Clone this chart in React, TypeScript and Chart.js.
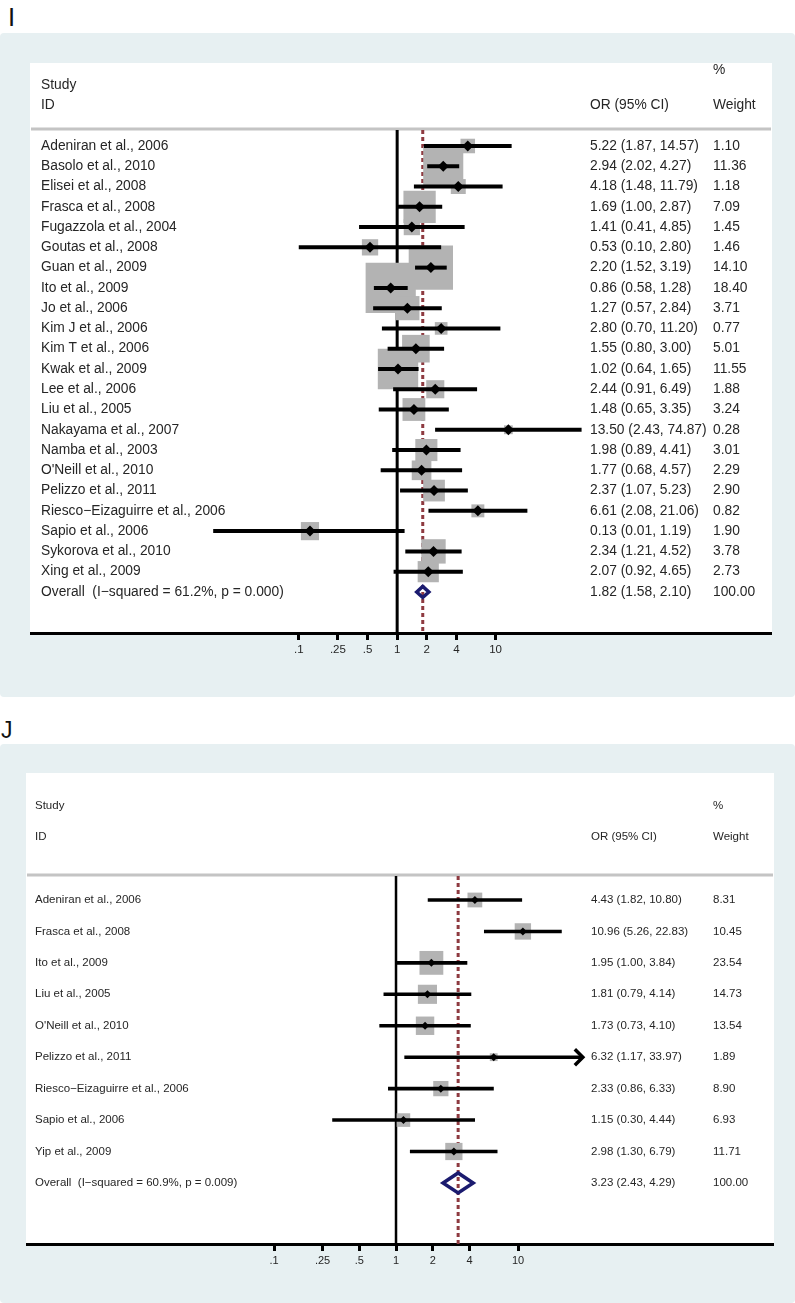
import React, { useEffect, useRef } from "react";
import { Chart, registerables } from "chart.js";

Chart.register(...registerables);

// ---------------- Panel I data ----------------
const studiesI = [
  "Adeniran et al., 2006",
  "Basolo et al., 2010",
  "Elisei et al., 2008",
  "Frasca et al., 2008",
  "Fugazzola et al., 2004",
  "Goutas et al., 2008",
  "Guan et al., 2009",
  "Ito et al., 2009",
  "Jo et al., 2006",
  "Kim J et al., 2006",
  "Kim T et al., 2006",
  "Kwak et al., 2009",
  "Lee et al., 2006",
  "Liu et al., 2005",
  "Nakayama et al., 2007",
  "Namba et al., 2003",
  "O'Neill et al., 2010",
  "Pelizzo et al., 2011",
  "Riesco\u2212Eizaguirre et al., 2006",
  "Sapio et al., 2006",
  "Sykorova et al., 2010",
  "Xing et al., 2009",
];
const orI = [5.22, 2.94, 4.18, 1.69, 1.41, 0.53, 2.2, 0.86, 1.27, 2.8, 1.55, 1.02, 2.44, 1.48, 13.5, 1.98, 1.77, 2.37, 6.61, 0.13, 2.34, 2.07];
const loI = [1.87, 2.02, 1.48, 1.0, 0.41, 0.1, 1.52, 0.58, 0.57, 0.7, 0.8, 0.64, 0.91, 0.65, 2.43, 0.89, 0.68, 1.07, 2.08, 0.0135, 1.21, 0.92];
const hiI = [14.57, 4.27, 11.79, 2.87, 4.85, 2.8, 3.19, 1.28, 2.84, 11.2, 3.0, 1.65, 6.49, 3.35, 74.87, 4.41, 4.57, 5.23, 21.06, 1.19, 4.52, 4.65];
const weightI = [1.1, 11.36, 1.18, 7.09, 1.45, 1.46, 14.1, 18.4, 3.71, 0.77, 5.01, 11.55, 1.88, 3.24, 0.28, 3.01, 2.29, 2.9, 0.82, 1.9, 3.78, 2.73];
const overallLabelI = "Overall  (I\u2212squared = 61.2%, p = 0.000)";
const overallI = [1.82, 1.58, 2.1];
const overallWeightI = 100;

// ---------------- Panel J data ----------------
const studiesJ = [
  "Adeniran et al., 2006",
  "Frasca et al., 2008",
  "Ito et al., 2009",
  "Liu et al., 2005",
  "O'Neill et al., 2010",
  "Pelizzo et al., 2011",
  "Riesco\u2212Eizaguirre et al., 2006",
  "Sapio et al., 2006",
  "Yip et al., 2009",
];
const orJ = [4.43, 10.96, 1.95, 1.81, 1.73, 6.32, 2.33, 1.15, 2.98];
const loJ = [1.82, 5.26, 1.0, 0.79, 0.73, 1.17, 0.86, 0.3, 1.3];
const hiJ = [10.8, 22.83, 3.84, 4.14, 4.1, 33.97, 6.33, 4.44, 6.79];
const weightJ = [8.31, 10.45, 23.54, 14.73, 13.54, 1.89, 8.9, 6.93, 11.71];
const overallLabelJ = "Overall  (I\u2212squared = 60.9%, p = 0.009)";
const overallJ = [3.23, 2.43, 4.29];
const overallWeightJ = 100;

// ---------------- Axis ticks ----------------
const tickValues = [0.1, 0.25, 0.5, 1, 2, 4, 10];
const tickLabels = [".1", ".25", ".5", "1", "2", "4", "10"];

const headerStudy = "Study";
const headerId = "ID";
const headerOr = "OR (95% CI)";
const headerPct = "%";
const headerWeight = "Weight";

// ---------------- Styles ----------------
const FONT = '"Liberation Sans", Arial, Helvetica, sans-serif';
const TEXT = "#262626";
const GRAY_SQ = "#b3b3b3";
const DASH_RED = "#8e3a40";
const NAVY = "#1b1b6f";
const BG = "#e7f0f2";
const W = 795;

type PanelData = {
  studies: string[];
  or: number[];
  lo: number[];
  hi: number[];
  weight: number[];
  overallLabel: string;
  overall: number[];
  overallWeight: number;
};

type PanelStyle = {
  canvasTop: number;
  canvasH: number;
  white: number[];
  area: { left: number; right: number; top: number; bottom: number };
  xMin: number;
  xMax: number;
  yMin: number;
  yMax: number;
  font: number;
  tickFont: number;
  nameX: number;
  orX: number;
  wX: number;
  headStudyY: number;
  headIdY: number;
  headPctY: number;
  headWeightY: number;
  sqK: number;
  sqC: number;
  ciW: number;
  ptR: number;
  nullW: number;
  dashW: number;
  dash: number[];
  diaHalf: number;
  diaW: number;
  axisW: number;
  tickPad: number;
  arrowAbove: number;
};

const styleI: PanelStyle = {
  canvasTop: 33,
  canvasH: 664,
  white: [30, 30, 772, 600],
  area: { left: 31, right: 771, top: 97, bottom: 600 },
  xMin: 1.9e-4,
  xMax: 6.3e3,
  yMin: -0.789,
  yMax: 24.026,
  font: 13.8,
  tickFont: 11.5,
  nameX: 41,
  orX: 590,
  wX: 713,
  headStudyY: 52,
  headIdY: 72,
  headPctY: 37,
  headWeightY: 72,
  sqK: 11,
  sqC: 3,
  ciW: 4,
  ptR: 5.5,
  nullW: 3,
  dashW: 3,
  dash: [4, 3],
  diaHalf: 5.5,
  diaW: 3.5,
  axisW: 3,
  tickPad: 3,
  arrowAbove: Infinity,
};

const styleJ: PanelStyle = {
  canvasTop: 744,
  canvasH: 559,
  white: [26, 29, 774, 500],
  area: { left: 27, right: 773, top: 132, bottom: 500 },
  xMin: 9.45e-4,
  xMax: 1230,
  yMin: -0.763,
  yMax: 10.942,
  font: 11.5,
  tickFont: 11,
  nameX: 35,
  orX: 591,
  wX: 713,
  headStudyY: 62,
  headIdY: 93,
  headPctY: 62,
  headWeightY: 93,
  sqK: 4.6,
  sqC: 1.5,
  ciW: 3.6,
  ptR: 4,
  nullW: 2.5,
  dashW: 3,
  dash: [4, 3],
  diaHalf: 10,
  diaW: 3.5,
  axisW: 3,
  tickPad: 3,
  arrowAbove: 30,
};

function buildChart(canvas: HTMLCanvasElement, d: PanelData, s: PanelStyle) {
  const H = s.canvasH;
  const n = d.studies.length;
  const datasets: any[] = [];

  // null line at OR = 1
  datasets.push({
    data: [{ x: 1, y: s.yMin }, { x: 1, y: s.yMax }],
    showLine: true,
    borderColor: "#000",
    borderWidth: s.nullW,
    pointRadius: 0,
    order: 6,
  });
  // dashed overall line
  datasets.push({
    data: [{ x: d.overall[0], y: s.yMin }, { x: d.overall[0], y: s.yMax }],
    showLine: true,
    borderColor: DASH_RED,
    borderWidth: s.dashW,
    borderDash: s.dash,
    pointRadius: 0,
    order: 5,
  });
  // weight squares
  datasets.push({
    data: d.or.map((v, i) => ({ x: v, y: i })),
    pointStyle: "rect",
    pointRadius: d.weight.map((w) => (s.sqK * Math.sqrt(w) + s.sqC) / Math.SQRT2),
    backgroundColor: GRAY_SQ,
    pointBackgroundColor: GRAY_SQ,
    borderWidth: 0,
    pointBorderWidth: 0,
    order: 4,
  });
  // CI lines
  d.or.forEach((_, i) => {
    datasets.push({
      data: [{ x: d.lo[i], y: i }, { x: d.hi[i], y: i }],
      showLine: true,
      borderColor: "#000",
      borderWidth: s.ciW,
      borderCapStyle: "butt",
      pointRadius: 0,
      order: 3,
    });
  });
  // point estimates
  datasets.push({
    data: d.or.map((v, i) => ({ x: v, y: i })),
    pointStyle: "rectRot",
    pointRadius: s.ptR,
    backgroundColor: "#000",
    pointBackgroundColor: "#000",
    borderWidth: 0,
    pointBorderWidth: 0,
    order: 1,
  });

  const bgPlugin = {
    id: "panelBg",
    beforeDraw(chart: any) {
      const ctx = chart.ctx;
      ctx.save();
      ctx.fillStyle = "#fff";
      ctx.fillRect(0, 0, W, H);
      ctx.fillStyle = BG;
      ctx.beginPath();
      if (ctx.roundRect) ctx.roundRect(0, 0, W, H, 4);
      else ctx.rect(0, 0, W, H);
      ctx.fill();
      const [x0, y0, x1, y1] = s.white;
      ctx.fillStyle = "#fff";
      ctx.fillRect(x0, y0, x1 - x0, y1 - y0);
      ctx.fillStyle = "#c4c4c4";
      ctx.fillRect(x0 + 1, chart.chartArea.top - 2.5, x1 - x0 - 2, 3);
      ctx.restore();
    },
  };

  const textPlugin = {
    id: "forestText",
    afterDatasetsDraw(chart: any) {
      const ctx = chart.ctx;
      const xs = chart.scales.x;
      const ys = chart.scales.y;
      ctx.save();
      ctx.font = `${s.font}px ${FONT}`;
      ctx.fillStyle = TEXT;
      ctx.textBaseline = "middle";
      ctx.textAlign = "left";
      ctx.fillText(headerStudy, s.nameX, s.headStudyY);
      ctx.fillText(headerId, s.nameX, s.headIdY);
      ctx.fillText(headerOr, s.orX, s.headWeightY);
      ctx.fillText(headerPct, s.wX, s.headPctY);
      ctx.fillText(headerWeight, s.wX, s.headWeightY);
      for (let i = 0; i < n; i++) {
        const py = ys.getPixelForValue(i);
        ctx.fillText(d.studies[i], s.nameX, py);
        ctx.fillText(
          `${d.or[i].toFixed(2)} (${d.lo[i].toFixed(2)}, ${d.hi[i].toFixed(2)})`,
          s.orX,
          py
        );
        ctx.fillText(d.weight[i].toFixed(2), s.wX, py);
      }
      const oy = ys.getPixelForValue(n);
      ctx.fillText(d.overallLabel, s.nameX, oy);
      ctx.fillText(
        `${d.overall[0].toFixed(2)} (${d.overall[1].toFixed(2)}, ${d.overall[2].toFixed(2)})`,
        s.orX,
        oy
      );
      ctx.fillText(d.overallWeight.toFixed(2), s.wX, oy);

      // overall diamond
      ctx.beginPath();
      ctx.moveTo(xs.getPixelForValue(d.overall[1]), oy);
      ctx.lineTo(xs.getPixelForValue(d.overall[0]), oy - s.diaHalf);
      ctx.lineTo(xs.getPixelForValue(d.overall[2]), oy);
      ctx.lineTo(xs.getPixelForValue(d.overall[0]), oy + s.diaHalf);
      ctx.closePath();
      ctx.lineJoin = "miter";
      ctx.strokeStyle = NAVY;
      ctx.lineWidth = s.diaW;
      ctx.stroke();

      // arrows for CIs beyond the display range
      for (let i = 0; i < n; i++) {
        if (d.hi[i] > s.arrowAbove) {
          const px = xs.getPixelForValue(d.hi[i]);
          const py = ys.getPixelForValue(i);
          ctx.beginPath();
          ctx.moveTo(px - 8, py - 8);
          ctx.lineTo(px, py);
          ctx.lineTo(px - 8, py + 8);
          ctx.strokeStyle = "#000";
          ctx.lineWidth = 3.5;
          ctx.stroke();
        }
      }
      ctx.restore();
    },
  };

  return new Chart(canvas, {
    type: "scatter",
    data: { datasets },
    options: {
      animation: false,
      responsive: false,
      maintainAspectRatio: false,
      events: [],
      layout: {
        autoPadding: false,
        padding: { left: s.area.left, right: W - s.area.right, top: s.area.top, bottom: 0 },
      },
      plugins: { legend: { display: false }, tooltip: { enabled: false } },
      elements: { line: { tension: 0 } },
      scales: {
        x: {
          type: "logarithmic",
          position: "bottom",
          min: s.xMin,
          max: s.xMax,
          bounds: "data",
          afterBuildTicks: (axis: any) => {
            axis.ticks = tickValues.map((v) => ({ value: v }));
          },
          afterFit: (axis: any) => {
            axis.height = H - s.area.bottom;
          },
          ticks: {
            autoSkip: false,
            maxRotation: 0,
            minRotation: 0,
            padding: s.tickPad,
            color: TEXT,
            font: { family: FONT, size: s.tickFont },
            callback: (_v: any, i: number) => tickLabels[i],
          },
          grid: {
            display: true,
            drawOnChartArea: false,
            drawTicks: true,
            tickLength: 7,
            tickWidth: 3,
            color: "#000",
          },
          border: { display: true, color: "#000", width: s.axisW },
        },
        y: {
          type: "linear",
          min: s.yMin,
          max: s.yMax,
          reverse: true,
          display: false,
        },
      },
    } as any,
    plugins: [bgPlugin, textPlugin],
  });
}

function ForestPanel({ d, s }: { d: PanelData; s: PanelStyle }) {
  const ref = useRef<HTMLCanvasElement>(null);
  useEffect(() => {
    if (!ref.current) return;
    const chart = buildChart(ref.current, d, s);
    return () => chart.destroy();
  }, []);
  return (
    <canvas
      ref={ref}
      width={W}
      height={s.canvasH}
      style={{ position: "absolute", left: 0, top: s.canvasTop, width: W, height: s.canvasH }}
    />
  );
}

const dataI: PanelData = {
  studies: studiesI,
  or: orI,
  lo: loI,
  hi: hiI,
  weight: weightI,
  overallLabel: overallLabelI,
  overall: overallI,
  overallWeight: overallWeightI,
};

const dataJ: PanelData = {
  studies: studiesJ,
  or: orJ,
  lo: loJ,
  hi: hiJ,
  weight: weightJ,
  overallLabel: overallLabelJ,
  overall: overallJ,
  overallWeight: overallWeightJ,
};

export default function App() {
  return (
    <div
      style={{
        position: "absolute",
        left: 0,
        top: 0,
        width: W,
        height: 1303,
        background: "#fff",
        overflow: "hidden",
      }}
    >
      <div
        style={{
          position: "absolute",
          left: 8,
          top: 5,
          fontFamily: FONT,
          fontSize: 25.5,
          lineHeight: 1,
          color: "#111",
        }}
      >
        I
      </div>
      <ForestPanel d={dataI} s={styleI} />
      <div
        style={{
          position: "absolute",
          left: 1,
          top: 719,
          fontFamily: FONT,
          fontSize: 23,
          lineHeight: 1,
          color: "#111",
        }}
      >
        J
      </div>
      <ForestPanel d={dataJ} s={styleJ} />
    </div>
  );
}
